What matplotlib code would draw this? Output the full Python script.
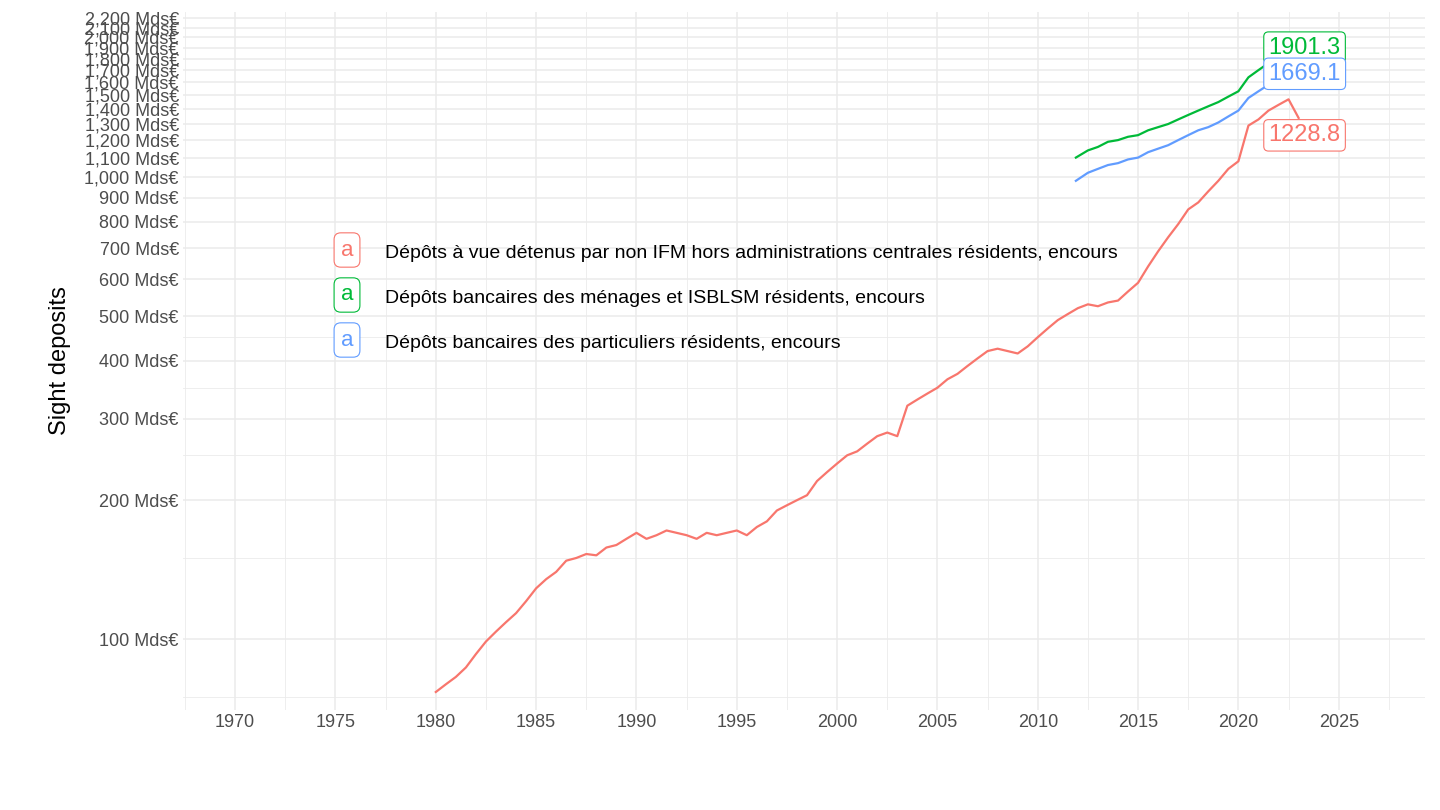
import matplotlib
matplotlib.use("Agg")
import matplotlib.pyplot as plt
from matplotlib.ticker import FixedLocator, NullFormatter

plt.rcParams['font.family'] = ['Liberation Sans', 'DejaVu Sans']

red_x = [1980.0+0.5*i for i in range(86)] + [2023.0]
red_y = [77,80,83,87,93,99,104,109,114,121,129,135,140,148,150,153,152,158,160,165,
         170,165,168,172,170,168,165,170,168,170,172,168,175,180,190,195,200,205,220,230,
         240,250,255,265,275,280,275,320,330,340,350,365,375,390,405,420,425,420,415,430,
         450,470,490,505,520,530,525,535,540,565,590,640,690,740,790,850,880,930,980,1040,
         1080,1290,1330,1390,1430,1470,1340]
green_x = [2011.9,2012.5,2013,2013.5,2014,2014.5,2015,2015.5,2016,2016.5,2017,2017.5,
           2018,2018.5,2019,2019.5,2020,2020.5,2021,2021.5,2022,2022.3]
green_y = [1100,1140,1160,1190,1200,1220,1230,1260,1280,1300,1330,1360,1390,1420,1450,
           1490,1530,1640,1700,1760,1850,1901.3]
blue_x = green_x
blue_y = [980,1020,1040,1060,1070,1090,1100,1130,1150,1170,1200,1230,1260,1280,1310,
          1350,1390,1480,1530,1580,1640,1669.1]
names = ["Dépôts à vue détenus par non IFM hors administrations centrales résidents, encours",
         "Dépôts bancaires des ménages et ISBLSM résidents, encours",
         "Dépôts bancaires des particuliers résidents, encours"]
colors = ["#F8766D", "#00BA38", "#619CFF"]
end_labels = ["1228.8", "1901.3", "1669.1"]

fig = plt.figure(figsize=(14.4, 8.1), dpi=100)
ax = fig.add_axes([183/1440, 1-710/810, (1425-183)/1440, (710-12)/810])
ax.set_yscale("log")
ax.set_xlim(1967.4, 2029.3)
ax.set_ylim(70.4, 2270)
for s in ax.spines.values():
    s.set_visible(False)
yt = list(range(100, 2300, 100))
ax.yaxis.set_major_locator(FixedLocator(yt))
ax.yaxis.set_minor_locator(FixedLocator([75, 150, 250, 350, 450]))
ax.yaxis.set_minor_formatter(NullFormatter())
ax.set_yticklabels([f"{v:,} Mds€" for v in yt])
xt = list(range(1970, 2030, 5))
ax.set_xticks(xt)
ax.set_xticks([1967.5 + 5*i for i in range(13)], minor=True)
ax.grid(True, which="major", color="#EBEBEB", lw=1.1)
ax.grid(True, which="minor", color="#EBEBEB", lw=0.6)
ax.tick_params(which="both", length=0, labelsize=13, labelcolor="#4D4D4D", pad=3)
ax.set_ylabel("Sight deposits", fontsize=17, labelpad=10)
ax.set_axisbelow(True)

series = [(red_x, red_y), (green_x, green_y), (blue_x, blue_y)]
for (x, y), c in zip(series, colors):
    ax.plot(x, y, color=c, lw=1.6)
lab_y = [1228.8, 1901.3, 1669.1]
for (x, y), c, t, ly in zip(series, colors, end_labels, lab_y):
    ax.text(2021.5, ly, t, color=c, fontsize=17, va="center", ha="left",
            bbox=dict(boxstyle="round,pad=0.2", fc="white", ec=c, lw=0.8))

for i, (n, c) in enumerate(zip(names, colors)):
    yy = 1 - (250 + 45*i)/810
    fig.text(347/1440, yy, "a", color=c, fontsize=16, ha="center", va="center",
             bbox=dict(boxstyle="round,pad=0.3", fc="white", ec=c, lw=0.8))
    fig.text(385/1440, yy - 0.004, n, fontsize=14, ha="left", va="center")

fig.savefig("out.png", dpi=100)
